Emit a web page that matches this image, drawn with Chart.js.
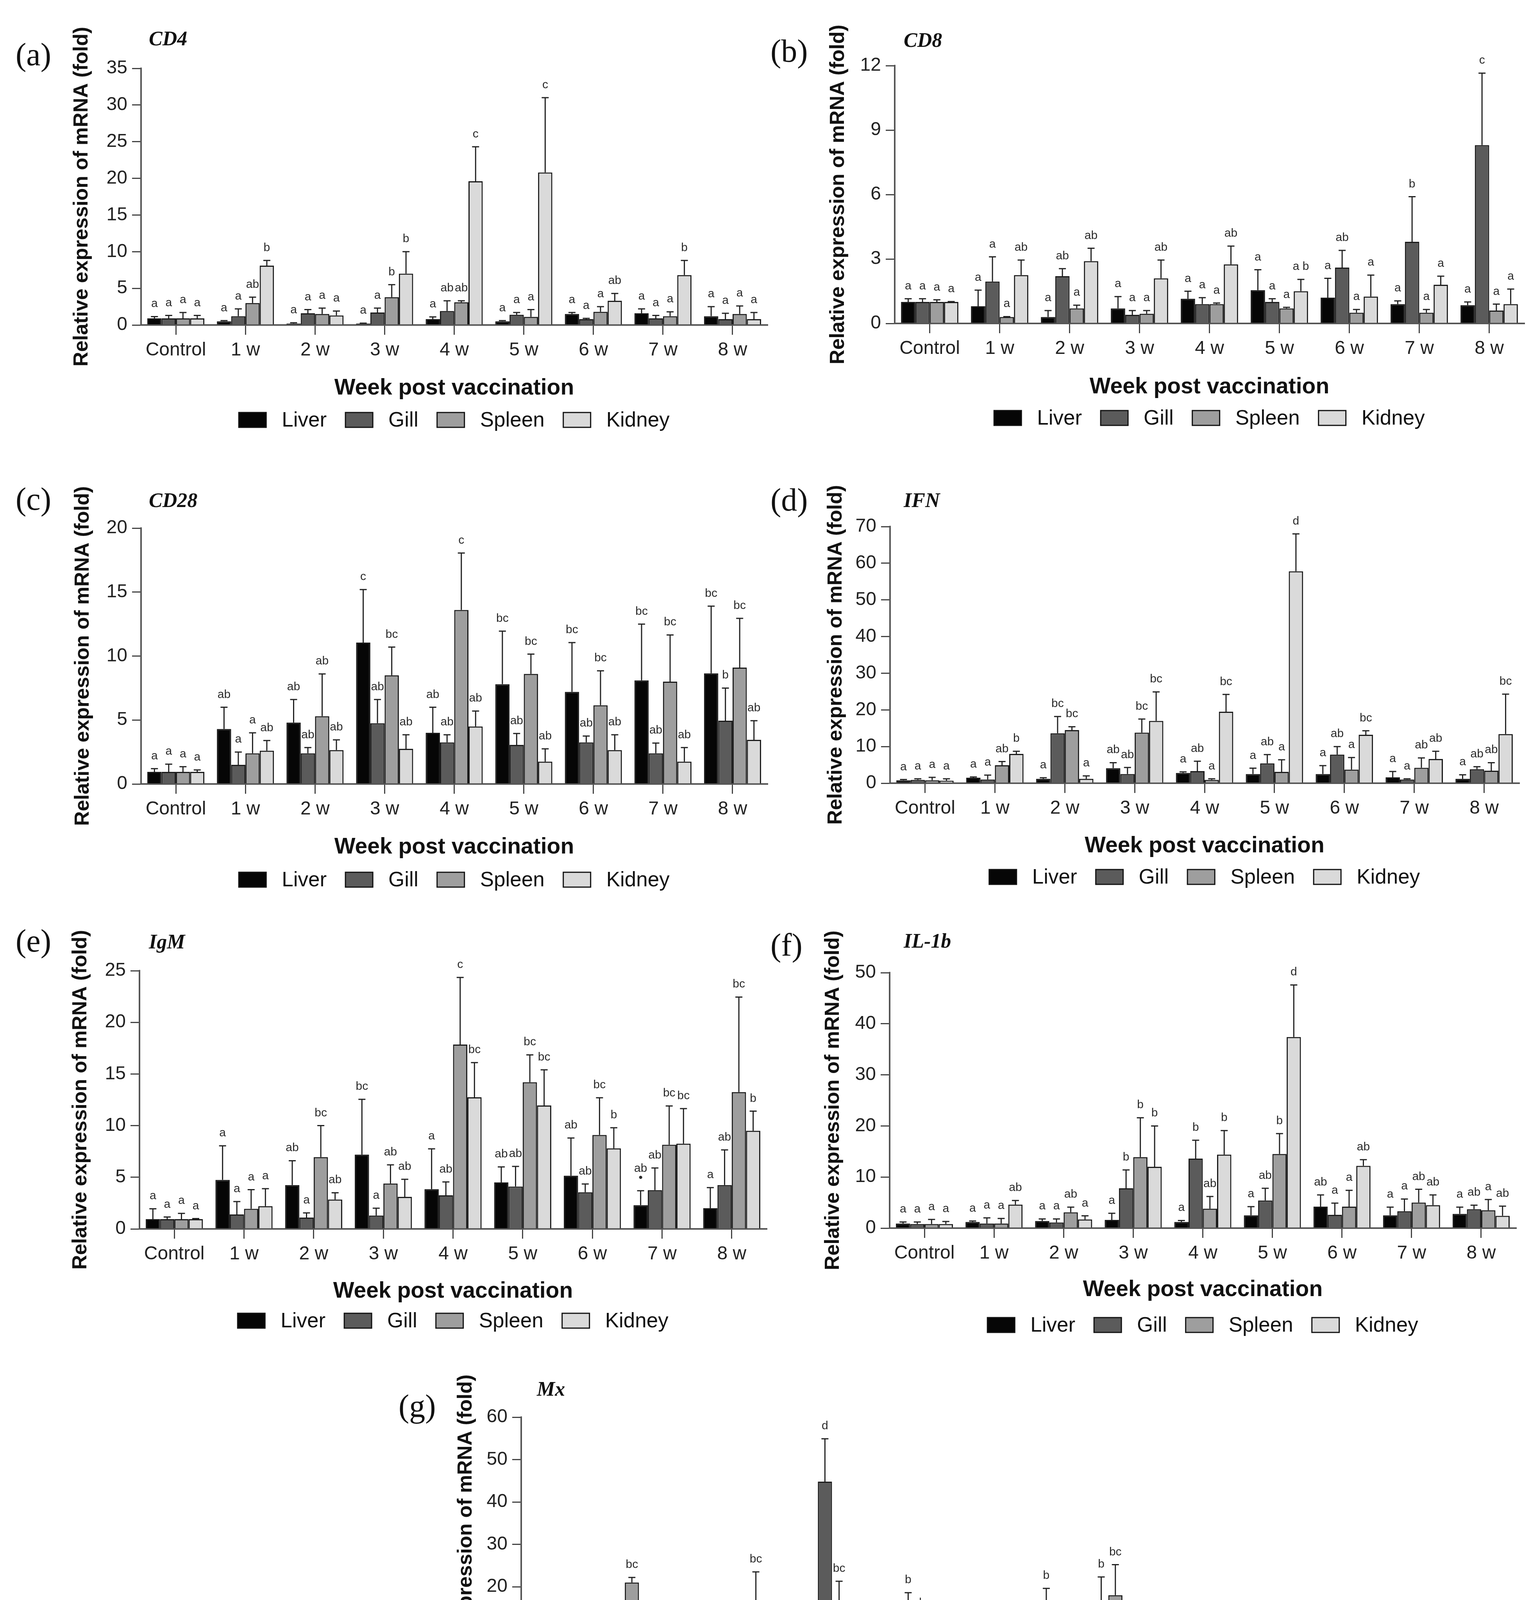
<!DOCTYPE html>
<html lang="en">
<head>
    <meta charset="UTF-8">
    <title>Relative expression of immune genes after vaccination</title>
    <script src="https://cdn.jsdelivr.net/npm/chart.js"></script>
    <style>
        body {
            margin: 0;
            background: #fff;
            width: 3939px;
            height: 4588px;
            position: relative;
            overflow: hidden;
        }
        .chart-box { position: absolute; }
        .tag {
            position: absolute;
            font-family: 'Liberation Serif', 'Times New Roman', serif;
            font-size: 82px;
            line-height: 1;
            color: #111;
            transform: translateY(-50%);
        }
        .gene {
            position: absolute;
            font-family: 'Liberation Serif', 'Times New Roman', serif;
            font-style: italic;
            font-weight: bold;
            font-size: 52px;
            line-height: 1;
            color: #111;
            transform: translateY(-50%);
        }
    </style>
</head>
<body>
<script>
    // axis text
    const categories = ['Control', '1 w', '2 w', '3 w', '4 w', '5 w', '6 w', '7 w', '8 w'];
    const tissues = ['Liver', 'Gill', 'Spleen', 'Kidney'];
    const yTitle = 'Relative expression of mRNA (fold)';
    const xTitle = 'Week post vaccination';

    // each block: one row per tissue (Liver, Gill, Spleen, Kidney), one value per week
    // CD4
    const cd4Mean = [
        [0.9, 0.5, 0.2, 0.2, 0.8, 0.5, 1.5, 1.6, 1.2],
        [0.9, 1.2, 1.6, 1.7, 1.9, 1.4, 0.8, 0.9, 0.8],
        [0.9, 3.0, 1.5, 3.8, 3.1, 1.1, 1.8, 1.2, 1.5],
        [0.9, 8.1, 1.3, 7.0, 19.6, 20.8, 3.3, 6.8, 0.8]
    ];
    const cd4Sd = [
        [0.25, 0.1, 0.1, 0.05, 0.3, 0.1, 0.2, 0.6, 1.3],
        [0.4, 1.0, 0.5, 0.6, 1.4, 0.3, 0.1, 0.4, 0.8],
        [0.8, 0.8, 0.8, 1.7, 0.2, 1.0, 0.7, 0.6, 1.1],
        [0.4, 0.7, 0.6, 3.0, 4.7, 10.2, 1.0, 2.0, 0.9]
    ];
    const cd4Sig = [
        ['a', 'a', 'a', 'a', 'a', 'a', 'a', 'a', 'a'],
        ['a', 'a', 'a', 'a', 'ab', 'a', 'a', 'a', 'a'],
        ['a', 'ab', 'a', 'b', 'ab', 'a', 'a', 'a', 'a'],
        ['a', 'b', 'a', 'b', 'c', 'c', 'ab', 'b', 'a']
    ];

    // CD8
    const cd8Mean = [
        [1.0, 0.8, 0.3, 0.7, 1.15, 1.55, 1.2, 0.9, 0.85],
        [1.0, 1.95, 2.2, 0.4, 0.9, 1.0, 2.6, 3.8, 8.3],
        [1.0, 0.3, 0.7, 0.45, 0.9, 0.7, 0.5, 0.5, 0.6],
        [1.0, 2.25, 2.9, 2.1, 2.75, 1.5, 1.25, 1.8, 0.9]
    ];
    const cd8Sd = [
        [0.15, 0.75, 0.3, 0.55, 0.35, 0.95, 0.9, 0.15, 0.15],
        [0.15, 1.15, 0.35, 0.2, 0.3, 0.15, 0.8, 2.1, 3.35],
        [0.1, 0.02, 0.15, 0.15, 0.05, 0.05, 0.15, 0.15, 0.3],
        [0.02, 0.7, 0.6, 0.85, 0.85, 0.55, 1.0, 0.4, 0.7]
    ];
    const cd8Sig = [
        ['a', 'a', 'a', 'a', 'a', 'a', 'a', 'a', 'a'],
        ['a', 'a', 'ab', 'a', 'a', 'a', 'ab', 'b', 'c'],
        ['a', 'a', 'a', 'a', 'a', 'a', 'a', 'a', 'a'],
        ['a', 'ab', 'ab', 'ab', 'ab', 'a b', 'a', 'a', 'a']
    ];

    // CD28
    const cd28Mean = [
        [0.95, 4.3, 4.8, 11.05, 4.0, 7.8, 7.2, 8.1, 8.65],
        [0.95, 1.5, 2.4, 4.75, 3.25, 3.05, 3.25, 2.4, 4.95],
        [0.95, 2.4, 5.3, 8.5, 13.6, 8.6, 6.15, 8.0, 9.1],
        [0.95, 2.6, 2.65, 2.75, 4.5, 1.75, 2.65, 1.75, 3.45]
    ];
    const cd28Sd = [
        [0.25, 1.7, 1.8, 4.15, 2.0, 4.15, 3.85, 4.4, 5.25],
        [0.6, 1.0, 0.45, 1.85, 0.6, 0.9, 0.5, 0.8, 2.55],
        [0.4, 1.6, 3.3, 2.2, 4.45, 1.55, 2.7, 3.65, 3.85],
        [0.15, 0.8, 0.8, 1.1, 1.2, 1.0, 1.2, 1.1, 1.5]
    ];
    const cd28Sig = [
        ['a', 'ab', 'ab', 'c', 'ab', 'bc', 'bc', 'bc', 'bc'],
        ['a', 'a', 'ab', 'ab', 'ab', 'ab', 'ab', 'ab', 'b'],
        ['a', 'a', 'ab', 'bc', 'c', 'bc', 'bc', 'bc', 'bc'],
        ['a', 'ab', 'ab', 'ab', 'ab', 'ab', 'ab', 'ab', 'ab']
    ];

    // IFN
    const ifnMean = [
        [0.8, 1.5, 1.2, 4.1, 2.8, 2.5, 2.5, 1.6, 1.2],
        [0.9, 1.0, 13.6, 2.5, 3.3, 5.4, 7.8, 1.0, 3.8],
        [0.8, 4.9, 14.5, 13.8, 0.9, 3.1, 3.7, 4.2, 3.4],
        [0.7, 8.0, 1.2, 17.0, 19.5, 57.8, 13.2, 6.6, 13.4]
    ];
    const ifnSd = [
        [0.2, 0.2, 0.3, 1.5, 0.3, 1.6, 2.3, 1.6, 1.1],
        [0.3, 1.2, 4.6, 1.8, 2.7, 2.4, 2.2, 0.2, 0.7],
        [0.8, 1.0, 0.9, 3.7, 0.3, 3.3, 3.3, 2.7, 2.2],
        [0.5, 0.7, 0.8, 7.9, 4.7, 10.2, 1.1, 2.1, 10.9]
    ];
    const ifnSig = [
        ['a', 'a', 'a', 'ab', 'a', 'a', 'a', 'a', 'a'],
        ['a', 'a', 'bc', 'ab', 'ab', 'ab', 'ab', 'a', 'ab'],
        ['a', 'ab', 'bc', 'bc', 'a', 'a', 'a', 'ab', 'ab'],
        ['a', 'b', 'a', 'bc', 'bc', 'd', 'bc', 'ab', 'bc']
    ];

    // IgM
    const igmMean = [
        [0.95, 4.75, 4.25, 7.2, 3.85, 4.5, 5.15, 2.3, 2.0],
        [0.95, 1.4, 1.1, 1.3, 3.25, 4.1, 3.55, 3.75, 4.25],
        [0.95, 1.95, 6.95, 4.4, 17.85, 14.2, 9.1, 8.15, 13.25],
        [0.95, 2.2, 2.85, 3.1, 12.75, 11.95, 7.8, 8.25, 9.5]
    ];
    const igmSd = [
        [1.0, 3.3, 2.35, 5.35, 3.9, 1.5, 3.65, 1.4, 2.0],
        [0.2, 1.25, 0.45, 0.7, 1.3, 1.95, 0.8, 2.15, 3.4],
        [0.55, 1.85, 3.05, 1.8, 6.5, 2.65, 3.6, 3.75, 9.2],
        [0.05, 1.7, 0.65, 1.7, 3.35, 3.45, 2.0, 3.4, 1.9]
    ];
    const igmSig = [
        ['a', 'a', 'ab', 'bc', 'a', 'ab', 'ab', 'ab\n•', 'a'],
        ['a', 'a', 'a', 'a', 'ab', 'ab', 'ab', 'ab', 'ab'],
        ['a', 'a', 'bc', 'ab', 'c', 'bc', 'bc', 'bc', 'bc'],
        ['a', 'a', 'ab', 'ab', 'bc', 'bc', 'b', 'bc', 'b']
    ];

    // IL-1b
    const il1bMean = [
        [0.9, 1.2, 1.4, 1.6, 1.2, 2.5, 4.2, 2.5, 2.8],
        [0.8, 0.9, 1.1, 7.8, 13.6, 5.4, 2.6, 3.3, 3.7],
        [0.8, 0.9, 3.1, 13.9, 3.8, 14.5, 4.2, 5.0, 3.5],
        [0.8, 4.6, 1.7, 12.0, 14.4, 37.4, 12.2, 4.5, 2.4]
    ];
    const il1bSd = [
        [0.3, 0.2, 0.4, 1.3, 0.3, 1.7, 2.3, 1.6, 1.3],
        [0.4, 1.1, 0.7, 3.6, 3.6, 2.4, 2.3, 2.4, 0.8],
        [0.9, 1.0, 1.0, 7.7, 2.4, 4.0, 3.2, 2.6, 2.1],
        [0.5, 0.8, 0.7, 8.0, 4.7, 10.2, 1.2, 2.0, 1.9]
    ];
    const il1bSig = [
        ['a', 'a', 'a', 'a', 'a', 'a', 'ab', 'a', 'a'],
        ['a', 'a', 'a', 'b', 'b', 'ab', 'a', 'a', 'ab'],
        ['a', 'a', 'ab', 'b', 'ab', 'b', 'a', 'ab', 'a'],
        ['a', 'ab', 'a', 'b', 'b', 'd', 'ab', 'ab', 'ab']
    ];

    // Mx
    const mxMean = [
        [0.9, 5.4, 6.4, 0.5, 1.6, 1.1, 2.2, 2.0, 3.1],
        [0.9, 2.7, 0.8, 15.9, 44.8, 7.1, 2.1, 6.0, 13.1],
        [0.9, 21.0, 5.8, 2.7, 15.5, 12.2, 6.1, 13.8, 18.0],
        [0.9, 1.0, 1.1, 0.9, 1.4, 11.1, 6.8, 2.3, 8.1]
    ];
    const mxSd = [
        [0.7, 1.1, 0.5, 1.3, 0.7, 1.2, 1.2, 0.2, 0.3],
        [0.2, 2.2, 0.4, 7.6, 10.1, 5.9, 1.5, 4.8, 9.2],
        [0.1, 1.2, 1.5, 1.6, 5.8, 6.4, 1.9, 5.8, 7.2],
        [0.2, 0.7, 0.8, 0.9, 0.5, 2.1, 5.7, 1.2, 1.7]
    ];
    const mxSig = [
        ['a', 'ab', 'ab', 'a', 'a', 'a', 'ab', 'ab', 'ab'],
        ['a', 'a', 'a', 'bc', 'd', 'a', 'a', 'ab', 'b'],
        ['a', 'bc', 'ab', 'ab', 'bc', 'b', 'ab', 'b', 'bc'],
        ['a', 'a', 'a', 'a', 'a', 'b', 'a', 'a', 'b']
    ];

    // ---- styling ----
    const tissueColors = ['#060606', '#5b5b5b', '#9e9e9e', '#dadada'];
    const SANS = "'Liberation Sans', Arial, sans-serif";
    const NARROW = "'Liberation Sans Narrow', 'Liberation Sans', Arial, sans-serif";
    const Y_W = 215;      // fixed width of the y axis box
    const X_H = 200;      // fixed height of the x axis box
    const PAD_TOP = 130;  // room above the plot so the long y title is not cut
    const PAD_BOTTOM = 100;

    // layout of the seven panels (page pixels)
    const panels = [
        { tag: '(a)', gene: 'CD4', mean: cd4Mean, sd: cd4Sd, sig: cd4Sig, yMax: 35, yStep: 5,
          left: 361, right: 1964, top: 175, bottom: 832, tagX: 40, tagY: 140, geneX: 381, geneY: 99,
          yGap: 151, xTitleOff: 162, legendOff: 243 },
        { tag: '(b)', gene: 'CD8', mean: cd8Mean, sd: cd8Sd, sig: cd8Sig, yMax: 12, yStep: 3,
          left: 2290, right: 3901, top: 168, bottom: 828, tagX: 1972, tagY: 131, geneX: 2313, geneY: 103,
          yGap: 144, xTitleOff: 163, legendOff: 242 },
        { tag: '(c)', gene: 'CD28', mean: cd28Mean, sd: cd28Sd, sig: cd28Sig, yMax: 20, yStep: 5,
          left: 361, right: 1964, top: 1352, bottom: 2007, tagX: 40, tagY: 1278, geneX: 381, geneY: 1281,
          yGap: 148, xTitleOff: 162, legendOff: 245 },
        { tag: '(d)', gene: 'IFN', mean: ifnMean, sd: ifnSd, sig: ifnSig, yMax: 70, yStep: 10,
          left: 2278, right: 3888, top: 1348, bottom: 2005, tagX: 1972, tagY: 1280, geneX: 2313, geneY: 1281,
          yGap: 138, xTitleOff: 161, legendOff: 240 },
        { tag: '(e)', gene: 'IgM', mean: igmMean, sd: igmSd, sig: igmSig, yMax: 25, yStep: 5,
          left: 357, right: 1962, top: 2485, bottom: 3146, tagX: 40, tagY: 2409, geneX: 381, geneY: 2411,
          yGap: 150, xTitleOff: 160, legendOff: 235 },
        { tag: '(f)', gene: 'IL-1b', mean: il1bMean, sd: il1bSd, sig: il1bSig, yMax: 50, yStep: 10,
          left: 2277, right: 3880, top: 2490, bottom: 3144, tagX: 1972, tagY: 2420, geneX: 2313, geneY: 2409,
          yGap: 144, xTitleOff: 158, legendOff: 248 },
        { tag: '(g)', gene: 'Mx', mean: mxMean, sd: mxSd, sig: mxSig, yMax: 60, yStep: 10,
          left: 1334, right: 2925, top: 3628, bottom: 4279, tagX: 1020, tagY: 3600, geneX: 1374, geneY: 3556,
          yGap: 141, xTitleOff: 155, legendOff: 255 }
    ];

    // error bars (upper only) and significance letters
    const errorBarPlugin = {
        id: 'errorBars',
        afterDatasetsDraw(chart) {
            const ctx = chart.ctx;
            const yScale = chart.scales.y;
            ctx.save();
            chart.data.datasets.forEach((ds, i) => {
                const meta = chart.getDatasetMeta(i);
                meta.data.forEach((bar, j) => {
                    const top = yScale.getPixelForValue(ds.data[j] + ds.sd[j]);
                    ctx.strokeStyle = '#222';
                    ctx.lineWidth = 3;
                    ctx.beginPath();
                    ctx.moveTo(bar.x, bar.y);
                    ctx.lineTo(bar.x, top);
                    ctx.moveTo(bar.x - 9, top);
                    ctx.lineTo(bar.x + 9, top);
                    ctx.stroke();

                    const lines = ds.sig[j].split('\n');
                    ctx.fillStyle = '#2a2a2a';
                    ctx.font = '30px ' + NARROW;
                    ctx.textAlign = 'center';
                    ctx.textBaseline = 'alphabetic';
                    lines.forEach((txt, k) => {
                        const y = top - 24 - (lines.length - 1 - k) * 24;
                        ctx.fillText(txt, bar.x, y);
                    });
                });
            });
            ctx.restore();
        }
    };

    // legend centred under the plot area
    const legendPlugin = {
        id: 'tissueLegend',
        afterDraw(chart, args, opts) {
            const ctx = chart.ctx;
            const area = chart.chartArea;
            const y = area.bottom + opts.offset;
            const boxW = 70, boxH = 38, gap = 40, itemGap = 48;
            ctx.save();
            ctx.font = '53px ' + SANS;
            const items = chart.data.datasets.map(ds => ({
                label: ds.label,
                color: ds.backgroundColor,
                w: ctx.measureText(ds.label).width
            }));
            const total = items.reduce((s, it) => s + boxW + gap + it.w, 0) + itemGap * (items.length - 1);
            let x = (area.left + area.right) / 2 - total / 2;
            items.forEach(it => {
                ctx.fillStyle = it.color;
                ctx.fillRect(x, y - boxH / 2, boxW, boxH);
                ctx.strokeStyle = '#111';
                ctx.lineWidth = 3;
                ctx.strokeRect(x, y - boxH / 2, boxW, boxH);
                ctx.fillStyle = '#111';
                ctx.textAlign = 'left';
                ctx.textBaseline = 'middle';
                ctx.fillText(it.label, x + boxW + gap, y + 2);
                x += boxW + gap + it.w + itemGap;
            });
            ctx.restore();
        }
    };

    function addText(cls, txt, x, y) {
        const el = document.createElement('div');
        el.className = cls;
        el.textContent = txt;
        el.style.left = x + 'px';
        el.style.top = y + 'px';
        document.body.appendChild(el);
    }

    panels.forEach(p => {
        const boxLeft = p.left - Y_W;
        const boxTop = p.top - PAD_TOP;
        const boxW = p.right - boxLeft + 10;
        const boxH = (p.bottom - p.top) + PAD_TOP + X_H + PAD_BOTTOM;

        const box = document.createElement('div');
        box.className = 'chart-box';
        box.style.left = boxLeft + 'px';
        box.style.top = boxTop + 'px';
        box.style.width = boxW + 'px';
        box.style.height = boxH + 'px';
        const canvas = document.createElement('canvas');
        box.appendChild(canvas);
        document.body.appendChild(box);

        addText('tag', p.tag, p.tagX, p.tagY);
        addText('gene', p.gene, p.geneX, p.geneY);

        new Chart(canvas.getContext('2d'), {
            type: 'bar',
            data: {
                labels: categories,
                datasets: tissues.map((name, t) => ({
                    label: name,
                    data: p.mean[t],
                    sd: p.sd[t],
                    sig: p.sig[t],
                    backgroundColor: tissueColors[t],
                    borderColor: '#1a1a1a',
                    borderWidth: 3,
                    categoryPercentage: 0.82,
                    barPercentage: 1.0
                }))
            },
            options: {
                responsive: true,
                maintainAspectRatio: false,
                animation: false,
                layout: { padding: { top: PAD_TOP, right: 10, bottom: PAD_BOTTOM, left: 0 } },
                plugins: {
                    legend: { display: false },
                    tooltip: { enabled: false },
                    tissueLegend: { offset: p.legendOff }
                },
                scales: {
                    x: {
                        offset: true,
                        grid: { offset: false, drawOnChartArea: false, tickLength: 25, lineWidth: 3, color: '#444' },
                        border: { color: '#555', width: 4 },
                        ticks: { font: { family: SANS, size: 48 }, color: '#222', padding: 11, autoSkip: false, maxRotation: 0 },
                        title: {
                            display: true,
                            text: xTitle,
                            color: '#111',
                            font: { family: SANS, size: 57, weight: 'bold', lineHeight: 1 },
                            padding: { top: 0, bottom: X_H - 28.5 - p.xTitleOff }
                        },
                        afterFit: s => { s.height = X_H; }
                    },
                    y: {
                        min: 0,
                        max: p.yMax,
                        ticks: { stepSize: p.yStep, font: { family: SANS, size: 48 }, color: '#222', padding: 12 },
                        grid: { drawOnChartArea: false, tickLength: 23, lineWidth: 3, color: '#444' },
                        border: { color: '#555', width: 4 },
                        title: {
                            display: true,
                            text: yTitle,
                            color: '#111',
                            font: { family: SANS, size: 52, weight: 'bold', lineHeight: 1 },
                            padding: { top: Y_W - p.yGap - 26, bottom: 0 }
                        },
                        afterFit: s => { s.width = Y_W; }
                    }
                }
            },
            plugins: [errorBarPlugin, legendPlugin]
        });
    });
</script>
</body>
</html>
